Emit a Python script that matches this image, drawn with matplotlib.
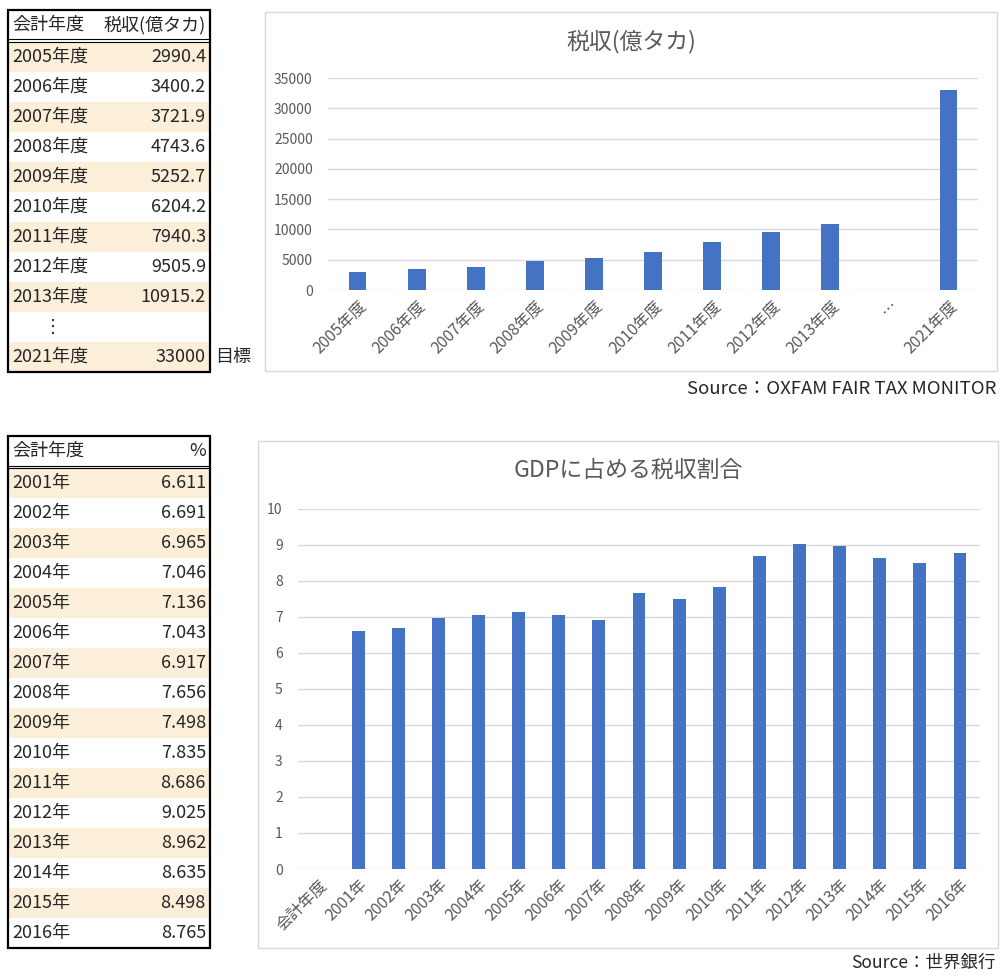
import numpy as np
import matplotlib
matplotlib.use('Agg')
import matplotlib.pyplot as plt
from matplotlib.patches import Rectangle

plt.rcParams['font.family'] = ['Noto Sans CJK JP', 'DejaVu Sans']

# ---------------- data ----------------
tax_years = ['2005年度', '2006年度', '2007年度', '2008年度', '2009年度',
             '2010年度', '2011年度', '2012年度', '2013年度']
tax_values = [2990.4, 3400.2, 3721.9, 4743.6, 5252.7, 6204.2, 7940.3, 9505.9, 10915.2]
tax_gap_label = '…'
tax_target_year = '2021年度'
tax_target_value = 33000
tax_yticks = [0, 5000, 10000, 15000, 20000, 25000, 30000, 35000]

gdp_blank_label = '会計年度'
gdp_years = ['2001年', '2002年', '2003年', '2004年', '2005年', '2006年', '2007年', '2008年',
             '2009年', '2010年', '2011年', '2012年', '2013年', '2014年', '2015年', '2016年']
gdp_share = [6.611, 6.691, 6.965, 7.046, 7.136, 7.043, 6.917, 7.656,
             7.498, 7.835, 8.686, 9.025, 8.962, 8.635, 8.498, 8.765]
gdp_yticks = [0, 1, 2, 3, 4, 5, 6, 7, 8, 9, 10]

title_tax = '税収(億タカ)'
title_gdp = 'GDPに占める税収割合'
source_tax = 'Source：OXFAM FAIR TAX MONITOR'
source_gdp = 'Source：世界銀行'
table1_header = ('会計年度', '税収(億タカ)')
table2_header = ('会計年度', '%')

# ---------------- layout ----------------
W, H = 1003, 980
fig = plt.figure(figsize=(W / 100, H / 100), dpi=100)
fig.patch.set_facecolor('white')

def rect(x0, y0, x1, y1):
    return [x0 / W, 1 - y1 / H, (x1 - x0) / W, (y1 - y0) / H]

ov = fig.add_axes([0, 0, 1, 1], zorder=0)
ov.set_xlim(0, W)
ov.set_ylim(H, 0)
ov.axis('off')

BAR = '#4472C4'
GRID = '#D9D9D9'
TICK = '#595959'
TXT = '#262626'
SHADE = '#FCEFD9'
TFS = 13

def draw_table(top, rows, header, x0=8, x1=210, head_h=30, row_h=30, fs=TFS):
    hb = top + head_h
    ov.text(x0 + 4, top + head_h / 2, header[0], ha='left', va='center', fontsize=fs, color=TXT)
    ov.text(x1 - 4, top + head_h / 2, header[1], ha='right', va='center', fontsize=fs, color=TXT)
    ov.plot([x0, x1], [hb - 0.5, hb - 0.5], color='black', lw=0.8)
    ov.plot([x0, x1], [hb + 2, hb + 2], color='black', lw=0.8)
    ystart = hb + 2
    for i, (lt, rt, cx) in enumerate(rows):
        ry = ystart + i * row_h
        if i % 2 == 0:
            ov.add_patch(Rectangle((x0, ry), x1 - x0, row_h, facecolor=SHADE, edgecolor='none', zorder=0))
        if cx is not None:
            ov.text(cx, ry + row_h / 2, lt, ha='center', va='center', fontsize=fs, color=TXT)
        else:
            ov.text(x0 + 4, ry + row_h / 2, lt, ha='left', va='center', fontsize=fs, color=TXT)
        ov.text(x1 - 4, ry + row_h / 2, rt, ha='right', va='center', fontsize=fs, color=TXT)
    bottom = ystart + len(rows) * row_h
    ov.add_patch(Rectangle((x0, top), x1 - x0, bottom - top, facecolor='none',
                           edgecolor='black', lw=1.6, zorder=3))
    return bottom

# table 1
rows1 = [(y, f'{v:g}', None) for y, v in zip(tax_years, tax_values)]
rows1.append(('⋮', '', 53))
rows1.append((tax_target_year, f'{tax_target_value:g}', None))
b1 = draw_table(10, rows1, table1_header)
ov.text(215, b1 - 15, '目標', ha='left', va='center', fontsize=TFS, color=TXT)

# table 2
rows2 = [(y, f'{v:.3f}', None) for y, v in zip(gdp_years, gdp_share)]
draw_table(436, rows2, table2_header)

# chart boxes
ov.add_patch(Rectangle((265, 12), 997 - 265, 371 - 12, facecolor='none', edgecolor=GRID, lw=1))
ov.add_patch(Rectangle((258, 441), 998 - 258, 948 - 441, facecolor='none', edgecolor=GRID, lw=1))

ov.text(631, 42, title_tax, ha='center', va='center', fontsize=16.5, color=TICK)
ov.text(628, 470, title_gdp, ha='center', va='center', fontsize=16.5, color=TICK)
ov.text(996, 389, source_tax, ha='right', va='center', fontsize=13.4, color=TXT)
ov.text(996, 963, source_gdp, ha='right', va='center', fontsize=12.6, color=TXT)

def style_axes(ax, ypad):
    for s in ax.spines.values():
        s.set_visible(False)
    ax.set_facecolor('none')
    ax.yaxis.grid(True, color=GRID, lw=1)
    ax.set_axisbelow(True)
    ax.tick_params(length=0, labelcolor=TICK)
    ax.tick_params(axis='y', pad=ypad, labelsize=10)
    ax.tick_params(axis='x', pad=5, labelsize=11.5)

# chart 1
ax1 = fig.add_axes(rect(328, 78, 978, 290), zorder=1)
cats1 = tax_years + [tax_gap_label, tax_target_year]
vals1 = tax_values + [np.nan, tax_target_value]
x1 = np.arange(len(cats1))
ax1.bar(x1, vals1, width=0.3, color=BAR, zorder=2)
ax1.set_xlim(-0.5, len(cats1) - 0.5)
ax1.set_ylim(0, tax_yticks[-1])
ax1.set_yticks(tax_yticks)
ax1.set_xticks(x1)
ax1.set_xticklabels(cats1, rotation=45, ha='right', rotation_mode='anchor')
style_axes(ax1, 11)

# chart 2
ax2 = fig.add_axes(rect(298, 509, 980, 869), zorder=1)
cats2 = [gdp_blank_label] + gdp_years
vals2 = [np.nan] + gdp_share
x2 = np.arange(len(cats2))
ax2.bar(x2, vals2, width=0.32, color=BAR, zorder=2)
ax2.set_xlim(-0.5, len(cats2) - 0.5)
ax2.set_ylim(0, gdp_yticks[-1])
ax2.set_yticks(gdp_yticks)
ax2.set_xticks(x2)
ax2.set_xticklabels(cats2, rotation=45, ha='right', rotation_mode='anchor')
style_axes(ax2, 11)

fig.savefig('out.png', dpi=100, facecolor='white')
